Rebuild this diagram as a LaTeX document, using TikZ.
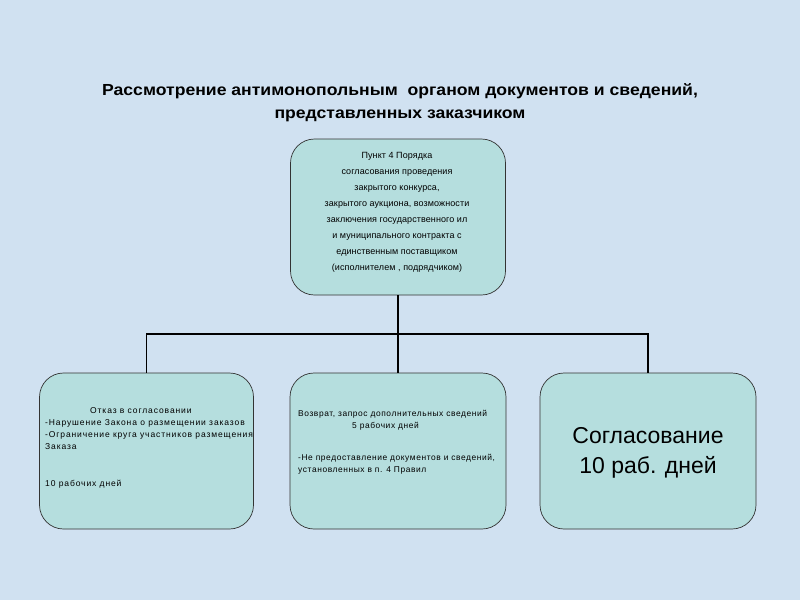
\documentclass[tikz,border=0pt]{standalone}
\usepackage{fontspec}
\setmainfont{Liberation Sans}
\newfontfamily\titlefont[FakeStretch=1.1]{Liberation Sans}
\newfontfamily\spacedfont[LetterSpace=10.5]{Liberation Sans}
\newfontfamily\midfont[LetterSpace=7]{Liberation Sans}
\newfontfamily\topfont[LetterSpace=1]{Liberation Sans}
\definecolor{bgblue}{RGB}{208,225,241}
\definecolor{boxfill}{RGB}{181,222,222}
\begin{document}
\begin{tikzpicture}[x=1pt,y=-1pt,
  box/.style={draw=black!80, line width=0.7pt, fill=boxfill, rounded corners=24pt, inner sep=0pt},
  link/.style={draw=black, line width=1.6pt},
]
\fill[bgblue] (0,0) rectangle (800,600);
\useasboundingbox (0,0) rectangle (800,600);

\node[inner sep=0pt, align=center, font=\titlefont\bfseries\fontsize{16}{23}\selectfont] (title) at (400,103)
  {Рассмотрение антимонопольным\ \ органом документов и сведений,\\ представленных заказчиком};

\node[box, minimum width=215pt, minimum height=156pt] (top) at (398,217) {};
\node[box, minimum width=214pt, minimum height=156pt] (left) at (146.5,451) {};
\node[box, minimum width=216pt, minimum height=156pt] (mid) at (398,451) {};
\node[box, minimum width=216pt, minimum height=156pt] (right) at (648,451) {};

\coordinate (hub) at (398,334);
\draw[link] (top.south) -- (hub);
\draw[link] (mid.north) -- (hub);
\draw[link] (left.north) |- (hub);
\draw[link] (right.north) |- (hub);

\node[inner sep=0pt, align=center, font=\topfont\fontsize{9}{16}\selectfont] (toptext) at (397,212)
  {Пункт 4 Порядка\\ согласования проведения\\ закрытого конкурса,\\ закрытого аукциона, возможности\\ заключения государственного ил\\ и муниципального контракта с\\ единственным поставщиком\\ (исполнителем , подрядчиком)};

\node[inner sep=0pt, anchor=north west, align=left, font=\spacedfont\fontsize{8.5}{12}\selectfont] (lefttext) at (45,407)
  {\hspace*{45pt}Отказ в согласовании\\ -Нарушение Закона о размещении заказов\\ -Ограничение круга участников размещения\\ Заказа\\[25pt] 10 рабочих дней};

\node[inner sep=0pt, anchor=north west, align=left, font=\midfont\fontsize{8.4}{12}\selectfont] (midtext) at (298,410)
  {Возврат, запрос дополнительных сведений\\ \hspace*{54pt}5 рабочих дней\\[20pt] -Не предоставление документов и сведений,\\ установленных в п. 4 Правил};

\node[inner sep=0pt, align=center, font=\fontsize{23}{30}\selectfont] (righttext) at (648,453)
  {Согласование\\ 10 раб. дней};
\end{tikzpicture}
\end{document}
